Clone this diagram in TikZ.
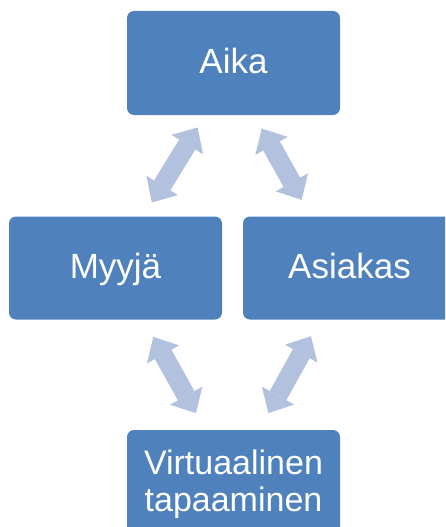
\documentclass[tikz,border=0pt]{standalone}
\usepackage{fontspec}
\setmainfont{Liberation Sans}
\usetikzlibrary{arrows.meta}
\definecolor{boxblue}{RGB}{79,129,189}
\definecolor{arrowblue}{RGB}{178,194,222}
\begin{document}
\begin{tikzpicture}[x=1pt, y=-1pt,
        block/.style={rectangle, rounded corners=7pt, fill=boxblue, text=white,
            minimum width=213pt, minimum height=103pt, inner sep=0pt,
            font=\fontsize{35}{42}\selectfont, text height=21pt, text depth=0pt},
        line/.style={{Triangle[width=37pt,length=20pt,line width=0pt]}-{Triangle[width=37pt,length=20pt,line width=0pt]},
            line width=19pt, draw=arrowblue, line cap=butt}]
        \clip (0,0) rectangle (445,527);

        % Nodes (Boxes)
        \node[block, minimum height=104pt] (Aika) at (233.5,63) {Aika};
        \node[block] (Myyja) at (115.5,268) {Myyjä};
        \node[block] (Asiakas) at (349.5,268) {Asiakas};
        \node[block, align=center, font=\fontsize{34}{37}\selectfont,
            text height=61pt, text depth=2pt] (Virtual) at (233.5,481.5) {Virtuaalinen\\tapaaminen};

        % Arcs (Double arrows)
        \draw[line, shorten <=14.4pt, shorten >=16.2pt] ([xshift=-28.3pt]Aika.south) -- ([xshift=27.8pt]Myyja.north);
        \draw[line, shorten <=15.2pt, shorten >=18.9pt] ([xshift=20.8pt]Aika.south) -- ([xshift=-38.6pt]Asiakas.north);
        \draw[line, shorten <=19.7pt, shorten >=19.1pt] ([xshift=28.2pt]Myyja.south) -- ([xshift=-28.2pt]Virtual.north);
        \draw[line, shorten <=18.8pt, shorten >=19.1pt] ([xshift=-29.4pt]Asiakas.south) -- ([xshift=25.6pt]Virtual.north);
    \end{tikzpicture}
\end{document}
